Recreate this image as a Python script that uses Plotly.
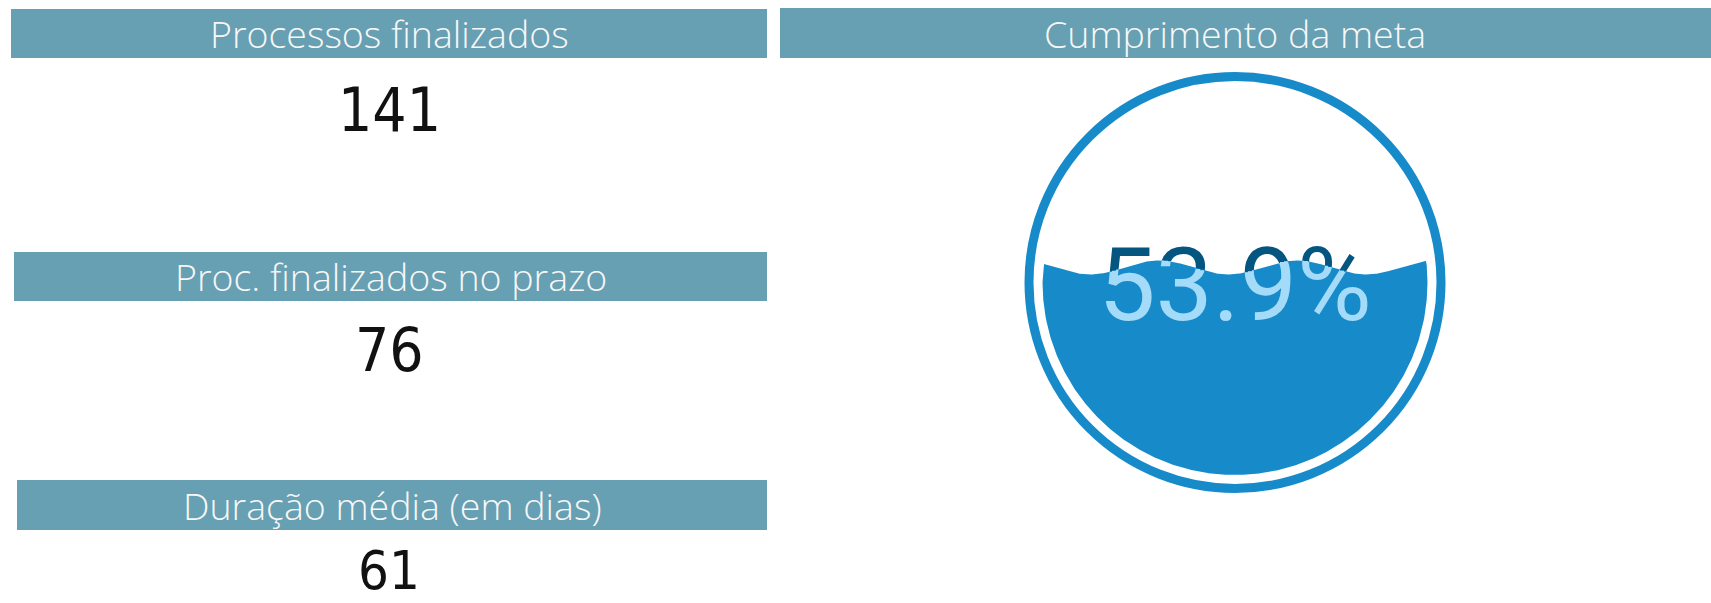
import numpy as np
import plotly.graph_objects as go

W, H = 1711, 603

kpi_titles = ["Processos finalizados", "Proc. finalizados no prazo", "Duração média (em dias)"]
kpi_values = [141, 76, 61]
gauge_title = "Cumprimento da meta"
goal_pct = 53.9

HEADER = "#679fb3"
BLUE = "#178bca"
TEXT_DARK = "#045681"
TEXT_WAVE = "#a4dbf8"

# everything is laid out in screen pixels (y grows downward)
card_boxes = [(11, 767, 9, 58), (14, 767, 252, 301), (17, 767, 480, 530)]
value_y = [110, 350, 570]
value_size = [60, 60, 54]
gauge_box = (780, 1711, 8, 58)
cx, cy = 1235, 282.5
ring_r, ring_w = 206, 9
fill_r = 192.5
wave_amp, wave_len, wave_trough = 7, 138, 1090
text_y = cy + 12

level = cy + fill_r - goal_pct / 100 * 2 * fill_r


def wave(x):
    return level + wave_amp * np.cos(2 * np.pi * (x - wave_trough) / wave_len)


pct_text = f"{goal_pct:.1f}%"
pct_font = dict(family="Roboto, Open Sans, sans-serif", size=102)

fig = go.Figure()

# dark text sits under the liquid
fig.add_trace(go.Scatter(x=[cx], y=[text_y], mode="text", text=[pct_text],
                         textposition="middle center",
                         textfont=dict(color=TEXT_DARK, **pct_font),
                         hoverinfo="skip", showlegend=False))

# liquid fill: circle below the wave
xs = np.linspace(cx - fill_r, cx + fill_r, 500)
half = np.sqrt(np.clip(fill_r ** 2 - (xs - cx) ** 2, 0, None))
top = np.maximum(wave(xs), cy - half)
bottom = cy + half
fig.add_trace(go.Scatter(x=np.concatenate([xs, xs[::-1]]),
                         y=np.concatenate([top, bottom[::-1]]),
                         mode="lines", fill="toself", fillcolor=BLUE,
                         line=dict(width=0, color=BLUE),
                         hoverinfo="skip", showlegend=False))

layout_axes = dict(
    xaxis=dict(domain=[0, 1], range=[0, W], visible=False, fixedrange=True),
    yaxis=dict(domain=[0, 1], range=[H, 0], visible=False, fixedrange=True),
)

# light text clipped to thin strips that follow the wave
strip = 4
n = 2
y_bot = cy + fill_r
for x0 in range(1080, 1400, strip):
    x1 = x0 + strip
    y_top = float(wave(x0 + strip / 2))
    layout_axes[f"xaxis{n}"] = dict(domain=[x0 / W, x1 / W], range=[x0, x1],
                                    visible=False, fixedrange=True, anchor=f"y{n}")
    layout_axes[f"yaxis{n}"] = dict(domain=[(H - y_bot) / H, (H - y_top) / H],
                                    range=[y_bot, y_top], visible=False,
                                    fixedrange=True, anchor=f"x{n}")
    fig.add_trace(go.Scatter(x=[cx], y=[text_y], mode="text", text=[pct_text],
                             textposition="middle center",
                             textfont=dict(color=TEXT_WAVE, **pct_font),
                             cliponaxis=True, xaxis=f"x{n}", yaxis=f"y{n}",
                             hoverinfo="skip", showlegend=False))
    n += 1

shapes = []
annotations = []
title_font = dict(family="Open Sans, sans-serif", size=37.5, color="#f7f7f7", weight=300)

for (x0, x1, y0, y1), title, val, vy, vs in zip(card_boxes, kpi_titles, kpi_values,
                                                value_y, value_size):
    shapes.append(dict(type="rect", xref="x", yref="y", x0=x0, x1=x1, y0=y0, y1=y1,
                       fillcolor=HEADER, line=dict(width=0), layer="below"))
    annotations.append(dict(x=(x0 + x1) / 2, y=(y0 + y1) / 2, xref="x", yref="y",
                            text=title, showarrow=False, font=title_font))
    annotations.append(dict(x=389, y=vy, xref="x", yref="y", text=str(val),
                            showarrow=False,
                            font=dict(family="Liberation Sans Narrow, DejaVu Sans Condensed, sans-serif",
                                      size=vs, color="#111111")))

gx0, gx1, gy0, gy1 = gauge_box
shapes.append(dict(type="rect", xref="x", yref="y", x0=gx0, x1=gx1, y0=gy0, y1=gy1,
                   fillcolor=HEADER, line=dict(width=0), layer="below"))
annotations.append(dict(x=cx, y=(gy0 + gy1) / 2, xref="x", yref="y", text=gauge_title,
                        showarrow=False, font=title_font))

# outer ring
shapes.append(dict(type="circle", xref="x", yref="y",
                   x0=cx - ring_r, x1=cx + ring_r, y0=cy - ring_r, y1=cy + ring_r,
                   line=dict(color=BLUE, width=ring_w), layer="below"))

fig.update_layout(width=W, height=H, autosize=False,
                  margin=dict(l=0, r=0, t=0, b=0),
                  paper_bgcolor="white", plot_bgcolor="rgba(0,0,0,0)",
                  shapes=shapes, annotations=annotations, **layout_axes)

fig.write_html("out.html", config={"displayModeBar": False},
               post_script="document.body.style.margin='0';")
